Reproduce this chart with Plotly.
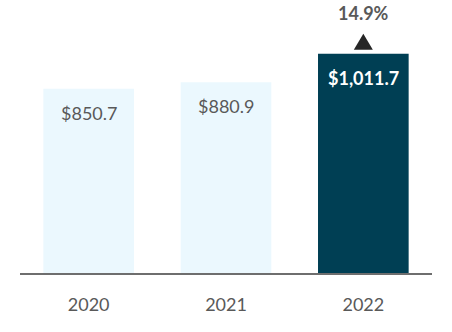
import plotly.graph_objects as go

years = ["2020", "2021", "2022"]
revenue = [850.7, 880.9, 1011.7]
growth_pct = 14.9
bar_colors = ["#EBF8FE", "#EBF8FE", "#003F54"]
label_colors = ["#595959", "#595959", "#FFFFFF"]
label_bold = [False, False, True]

pos = list(range(len(years)))

fig = go.Figure(
    go.Bar(
        x=pos,
        y=revenue,
        width=0.66,
        marker=dict(color=bar_colors, line=dict(width=0)),
        hoverinfo="skip",
    )
)

for p, val, col, bold in zip(pos, revenue, label_colors, label_bold):
    txt = f"${val:,.1f}"
    fig.add_annotation(
        x=p, y=val, yshift=-24, showarrow=False,
        text=f"<b>{txt}</b>" if bold else txt,
        font=dict(family="Lato", size=18, color=col),
    )

# growth marker above the latest bar
fig.add_shape(
    type="path", xref="x", yref="y",
    xsizemode="pixel", ysizemode="pixel",
    xanchor=pos[-1], yanchor=revenue[-1],
    path="M -9.5,4 L 9.5,4 L 0,20 Z",
    fillcolor="#262626", line=dict(width=0),
)
fig.add_annotation(
    x=pos[-1], y=revenue[-1], yshift=41, showarrow=False,
    text=f"<b>{growth_pct:.1f}%</b>",
    font=dict(family="Lato", size=18, color="#595959"),
)

fig.update_layout(
    width=452, height=332,
    margin=dict(l=20, r=20, t=20, b=59),
    paper_bgcolor="white", plot_bgcolor="white",
    showlegend=False,
    xaxis=dict(
        type="linear", range=[-0.5, 2.5],
        tickmode="array", tickvals=pos, ticktext=years,
        showline=True, linecolor="#6E6E6E", linewidth=2,
        ticks="", showgrid=False, zeroline=False,
        ticklabelstandoff=14,
        tickfont=dict(family="Lato", size=18, color="#595959"),
    ),
    yaxis=dict(range=[0, 1168], visible=False, showgrid=False),
)

fig.write_html("out.html")
